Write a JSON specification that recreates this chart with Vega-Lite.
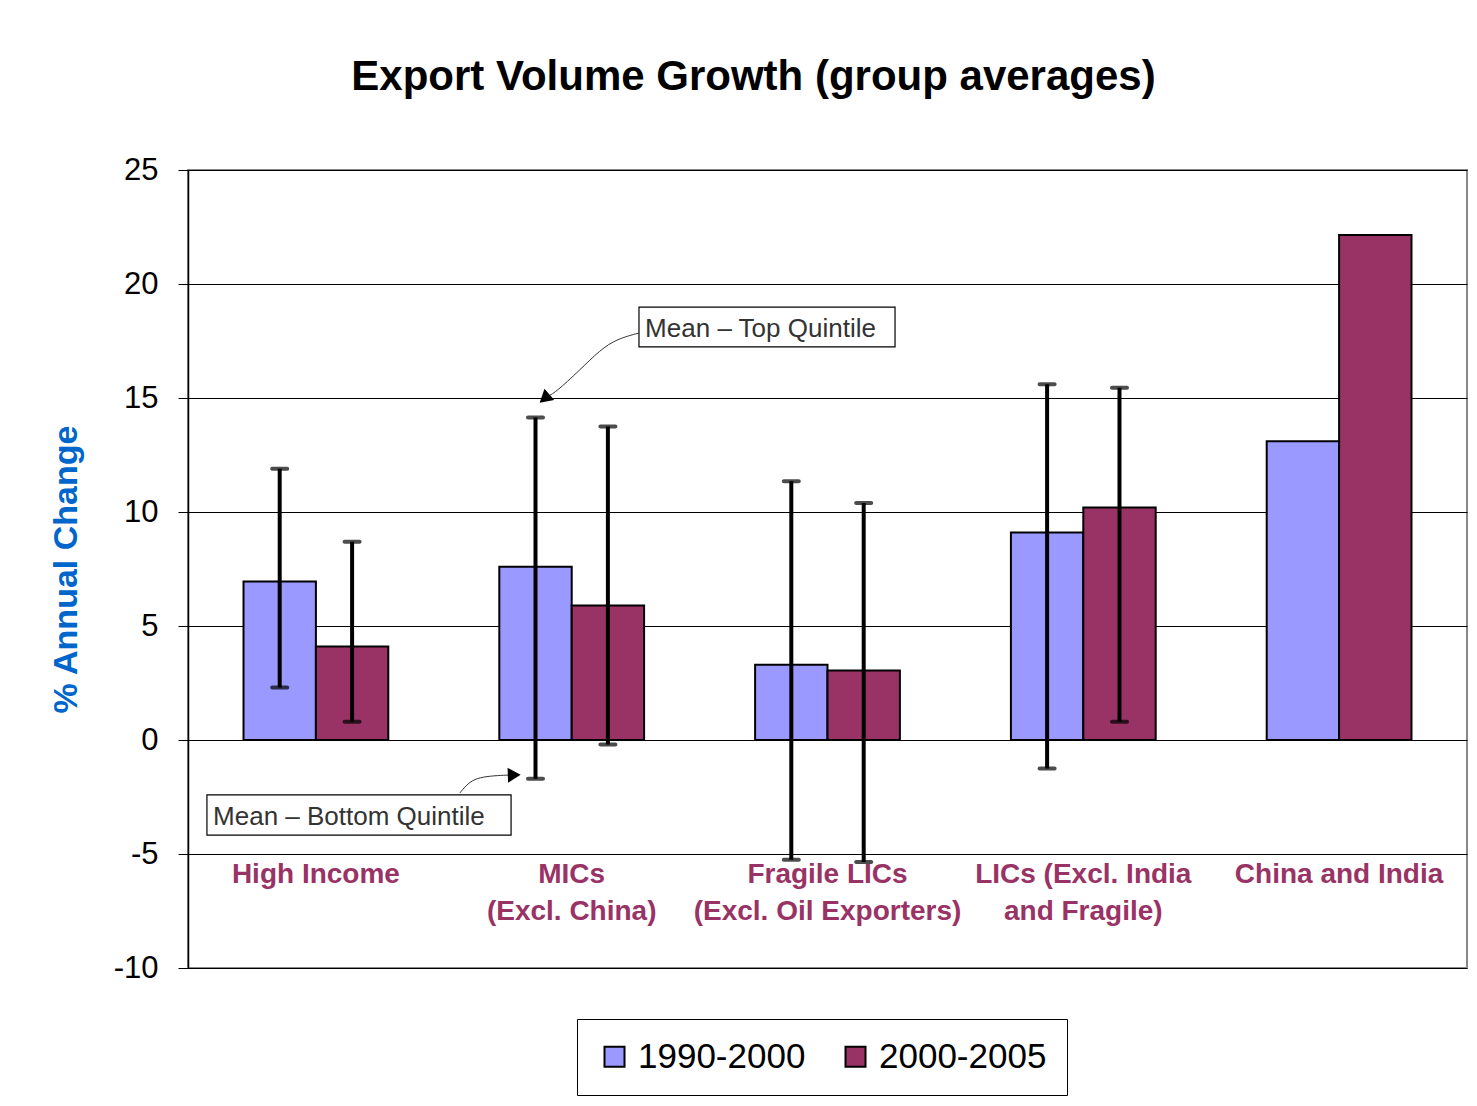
{
  "$schema": "https://vega.github.io/schema/vega-lite/v6.json",
  "width": 1279,
  "height": 798,
  "autosize": "none",
  "padding": {"left": 188, "top": 170, "right": 10, "bottom": 138},
  "background": "white",
  "title": {
    "text": "Export Volume Growth (group averages)",
    "font": "Liberation Sans",
    "fontSize": 42,
    "fontWeight": "bold",
    "color": "black",
    "anchor": "middle",
    "baseline": "bottom",
    "dx": -74,
    "offset": 13
  },
  "config": {
    "view": {"stroke": "#888888", "strokeWidth": 2},
    "font": "Liberation Sans"
  },
  "resolve": {"scale": {"x": "independent"}},
  "layer": [
    {
      "data": {
        "values": [
          {"group": "High Income", "period": "1990-2000", "value": 6.95, "lo": 2.3, "hi": 11.9},
          {"group": "High Income", "period": "2000-2005", "value": 4.1, "lo": 0.8, "hi": 8.7},
          {"group": "MICs\n(Excl. China)", "period": "1990-2000", "value": 7.6, "lo": -1.7, "hi": 14.15},
          {"group": "MICs\n(Excl. China)", "period": "2000-2005", "value": 5.9, "lo": -0.2, "hi": 13.75},
          {"group": "Fragile LICs\n(Excl. Oil Exporters)", "period": "1990-2000", "value": 3.3, "lo": -5.25, "hi": 11.35},
          {"group": "Fragile LICs\n(Excl. Oil Exporters)", "period": "2000-2005", "value": 3.05, "lo": -5.35, "hi": 10.4},
          {"group": "LICs (Excl. India\nand Fragile)", "period": "1990-2000", "value": 9.1, "lo": -1.25, "hi": 15.6},
          {"group": "LICs (Excl. India\nand Fragile)", "period": "2000-2005", "value": 10.2, "lo": 0.8, "hi": 15.45},
          {"group": "China and India", "period": "1990-2000", "value": 13.1, "lo": null, "hi": null},
          {"group": "China and India", "period": "2000-2005", "value": 22.15, "lo": null, "hi": null}
        ]
      },
      "layer": [
        {
          "mark": {"type": "bar", "stroke": "black", "strokeWidth": 2},
          "encoding": {
            "x": {
              "field": "group",
              "type": "nominal",
              "sort": null,
              "scale": {
                "domain": ["High Income", "MICs\n(Excl. China)", "Fragile LICs\n(Excl. Oil Exporters)", "LICs (Excl. India\nand Fragile)", "China and India"],
                "paddingInner": 0.434,
                "paddingOuter": 0.217
              },
              "axis": null
            },
            "xOffset": {
              "field": "period",
              "type": "nominal",
              "scale": {"domain": ["1990-2000", "2000-2005"], "paddingInner": 0, "paddingOuter": 0}
            },
            "y": {
              "field": "value",
              "type": "quantitative",
              "scale": {"domain": [-10, 25], "nice": false, "zero": false},
              "axis": {
                "title": "% Annual Change",
                "titleFont": "Liberation Sans",
                "titleFontSize": 34,
                "titleFontWeight": "bold",
                "titleColor": "#0066CC",
                "titlePadding": 30,
                "values": [-10, -5, 0, 5, 10, 15, 20, 25],
                "labelExpr": "'' + datum.value",
                "labelFont": "Liberation Sans",
                "labelFontSize": 31,
                "labelColor": "black",
                "labelPadding": 20,
                "tickSize": 10,
                "tickColor": "black",
                "domainColor": "black",
                "domainWidth": 1.5,
                "grid": true,
                "gridColor": "black",
                "gridWidth": 1
              }
            },
            "fill": {
              "field": "period",
              "type": "nominal",
              "scale": {"domain": ["1990-2000", "2000-2005"], "range": ["#9999FF", "#993366"]},
              "legend": {
                "title": null,
                "orient": "none",
                "legendX": 389,
                "legendY": 849,
                "direction": "horizontal",
                "strokeColor": "black",
                "fillColor": "white",
                "padding": 20,
                "symbolType": "square",
                "symbolSize": 400,
                "symbolStrokeColor": "black",
                "symbolStrokeWidth": 2,
                "labelFont": "Liberation Sans",
                "labelFontSize": 35,
                "labelLimit": 400,
                "labelColor": "black",
                "labelOffset": 6,
                "columnPadding": 32
              }
            }
          }
        },
        {
          "transform": [{"filter": "isValid(datum.lo)"}],
          "mark": {"type": "rule", "strokeWidth": 4, "color": "black"},
          "encoding": {
            "x": {"field": "group", "type": "nominal", "sort": null},
            "xOffset": {"field": "period", "type": "nominal"},
            "y": {"field": "lo", "type": "quantitative"},
            "y2": {"field": "hi"}
          }
        },
        {
          "transform": [{"filter": "isValid(datum.lo)"}],
          "mark": {"type": "tick", "thickness": 4, "size": 19, "color": "black", "cornerRadius": 2},
          "encoding": {
            "x": {"field": "group", "type": "nominal", "sort": null},
            "xOffset": {"field": "period", "type": "nominal"},
            "y": {"field": "lo", "type": "quantitative"}
          }
        },
        {
          "transform": [{"filter": "isValid(datum.hi)"}],
          "mark": {"type": "tick", "thickness": 4, "size": 19, "color": "black", "cornerRadius": 2},
          "encoding": {
            "x": {"field": "group", "type": "nominal", "sort": null},
            "xOffset": {"field": "period", "type": "nominal"},
            "y": {"field": "hi", "type": "quantitative"}
          }
        },
        {
          "transform": [{"filter": "datum.period === '1990-2000'"}],
          "mark": {
            "type": "text",
            "lineBreak": "\n",
            "font": "Liberation Sans",
            "fontSize": 28,
            "fontWeight": "bold",
            "color": "#993366",
            "align": "center",
            "baseline": "top",
            "lineHeight": 37
          },
          "encoding": {
            "x": {"field": "group", "type": "nominal", "sort": null},
            "y": {"datum": -5.3, "type": "quantitative"},
            "text": {"field": "group", "type": "nominal"}
          }
        }
      ]
    },
    {
      "layer": [
        {
          "data": {"values": [{}]},
          "mark": {"type": "rect", "fill": "white", "stroke": "black", "strokeWidth": 1.2},
          "encoding": {
            "x": {"datum": 1.763, "type": "quantitative", "scale": {"domain": [0, 5], "nice": false, "zero": false}, "axis": null},
            "x2": {"datum": 2.764},
            "y": {"datum": 18.99, "type": "quantitative"},
            "y2": {"datum": 17.24}
          }
        },
        {
          "data": {"values": [{}]},
          "mark": {"type": "text", "align": "left", "baseline": "middle", "font": "Liberation Sans", "fontSize": 26, "color": "#333333"},
          "encoding": {
            "x": {"datum": 1.787, "type": "quantitative"},
            "y": {"datum": 18.03, "type": "quantitative"},
            "text": {"value": "Mean – Top Quintile"}
          }
        },
        {
          "data": {"values": [{}]},
          "mark": {"type": "rect", "fill": "white", "stroke": "black", "strokeWidth": 1.2},
          "encoding": {
            "x": {"datum": 0.074, "type": "quantitative"},
            "x2": {"datum": 1.263},
            "y": {"datum": -2.41, "type": "quantitative"},
            "y2": {"datum": -4.17}
          }
        },
        {
          "data": {"values": [{}]},
          "mark": {"type": "text", "align": "left", "baseline": "middle", "font": "Liberation Sans", "fontSize": 26, "color": "#333333"},
          "encoding": {
            "x": {"datum": 0.098, "type": "quantitative"},
            "y": {"datum": -3.38, "type": "quantitative"},
            "text": {"value": "Mean – Bottom Quintile"}
          }
        },
        {
          "data": {
            "values": [
              {"arrow": "top", "i": 0, "u": 1.763, "v": 17.85},
              {"arrow": "top", "i": 1, "u": 1.677, "v": 17.59},
              {"arrow": "top", "i": 2, "u": 1.611, "v": 17.11},
              {"arrow": "top", "i": 3, "u": 1.532, "v": 16.23},
              {"arrow": "top", "i": 4, "u": 1.435, "v": 15.22},
              {"arrow": "top", "i": 5, "u": 1.4, "v": 15.04},
              {"arrow": "bottom", "i": 0, "u": 1.063, "v": -2.32},
              {"arrow": "bottom", "i": 1, "u": 1.095, "v": -1.89},
              {"arrow": "bottom", "i": 2, "u": 1.13, "v": -1.67},
              {"arrow": "bottom", "i": 3, "u": 1.181, "v": -1.58},
              {"arrow": "bottom", "i": 4, "u": 1.239, "v": -1.54},
              {"arrow": "bottom", "i": 5, "u": 1.267, "v": -1.54}
            ]
          },
          "mark": {"type": "line", "interpolate": "basis", "color": "#333333", "strokeWidth": 1},
          "encoding": {
            "x": {"field": "u", "type": "quantitative"},
            "y": {"field": "v", "type": "quantitative"},
            "detail": {"field": "arrow"},
            "order": {"field": "i"}
          }
        },
        {
          "data": {"values": [{}]},
          "mark": {"type": "point", "shape": "triangle", "filled": true, "color": "black", "size": 220, "angle": 229, "opacity": 1},
          "encoding": {
            "x": {"datum": 1.4, "type": "quantitative"},
            "y": {"datum": 15.04, "type": "quantitative"}
          }
        },
        {
          "data": {"values": [{}]},
          "mark": {"type": "point", "shape": "triangle", "filled": true, "color": "black", "size": 220, "angle": 88, "opacity": 1},
          "encoding": {
            "x": {"datum": 1.267, "type": "quantitative"},
            "y": {"datum": -1.54, "type": "quantitative"}
          }
        }
      ]
    }
  ]
}
